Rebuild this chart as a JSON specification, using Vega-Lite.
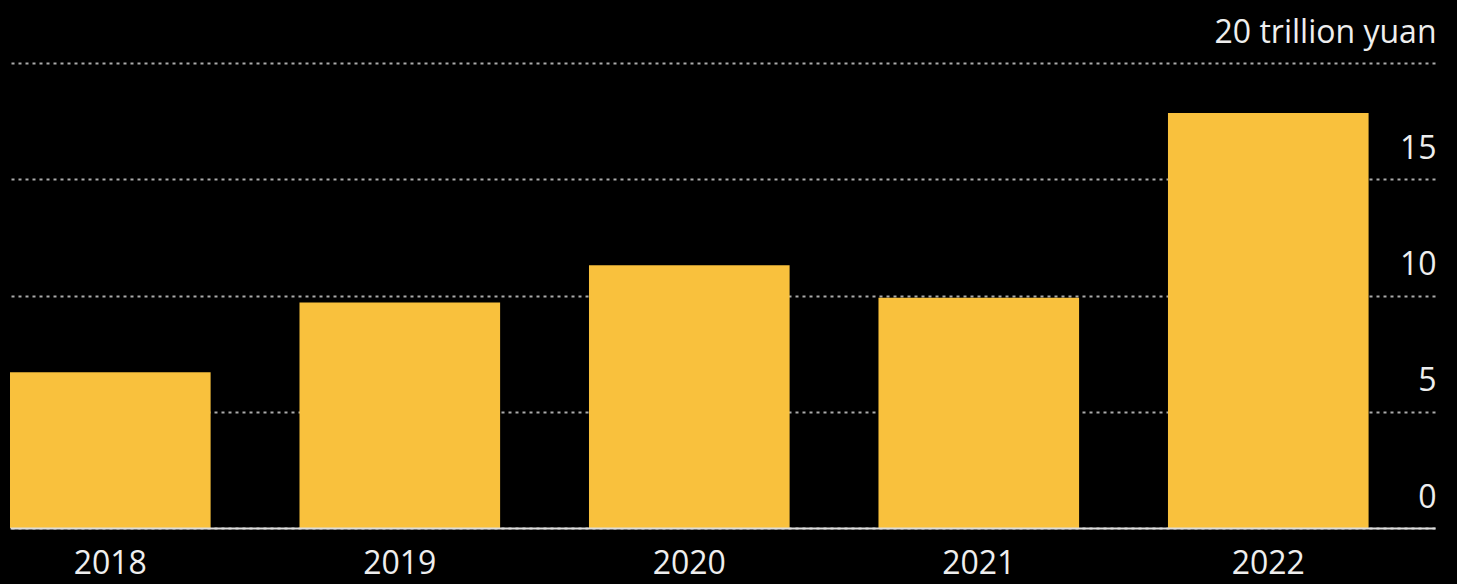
{
  "$schema": "https://vega.github.io/schema/vega-lite/v6.json",
  "autosize": {"type": "none"},
  "padding": {"left": 10, "right": 22, "top": 63, "bottom": 56},
  "width": 1425,
  "height": 465,
  "background": "#000000",
  "data": {"values": [
    {"year": "2018", "value": 6.7},
    {"year": "2019", "value": 9.7},
    {"year": "2020", "value": 11.3},
    {"year": "2021", "value": 9.9},
    {"year": "2022", "value": 17.85}
  ]},
  "mark": {"type": "bar", "color": "#F9C13D"},
  "encoding": {
    "x": {
      "field": "year", "type": "ordinal",
      "scale": {"paddingInner": 0.307, "paddingOuter": 0.1147, "align": 0},
      "axis": {
        "title": null, "orient": "bottom", "labelAngle": 0,
        "domain": true, "domainColor": "#DDDDDD", "domainWidth": 2,
        "ticks": false, "tickSize": 0,
        "labelBaseline": "alphabetic", "labelPadding": 45,
        "labelFont": "Open Sans", "labelFontSize": 32, "labelColor": "#EEEEEE",
        "zindex": 1
      }
    },
    "y": {
      "field": "value", "type": "quantitative",
      "scale": {"domain": [0, 20], "nice": false},
      "axis": {
        "title": null, "orient": "right", "values": [0, 5, 10, 15, 20],
        "domain": false, "ticks": false, "tickSize": 0,
        "grid": true, "gridColor": "#AAAAAA", "gridDash": [3, 4], "gridWidth": 2,
        "labelAlign": "right", "labelBaseline": "alphabetic", "labelPadding": 1, "labelOffset": -21,
        "labelFont": "Open Sans", "labelFontSize": 32, "labelColor": "#EEEEEE", "labelLimit": 0,
        "labelExpr": "datum.value == 20 ? '20 trillion yuan' : datum.label",
        "zindex": 0
      }
    }
  },
  "config": {"view": {"stroke": null}}
}
